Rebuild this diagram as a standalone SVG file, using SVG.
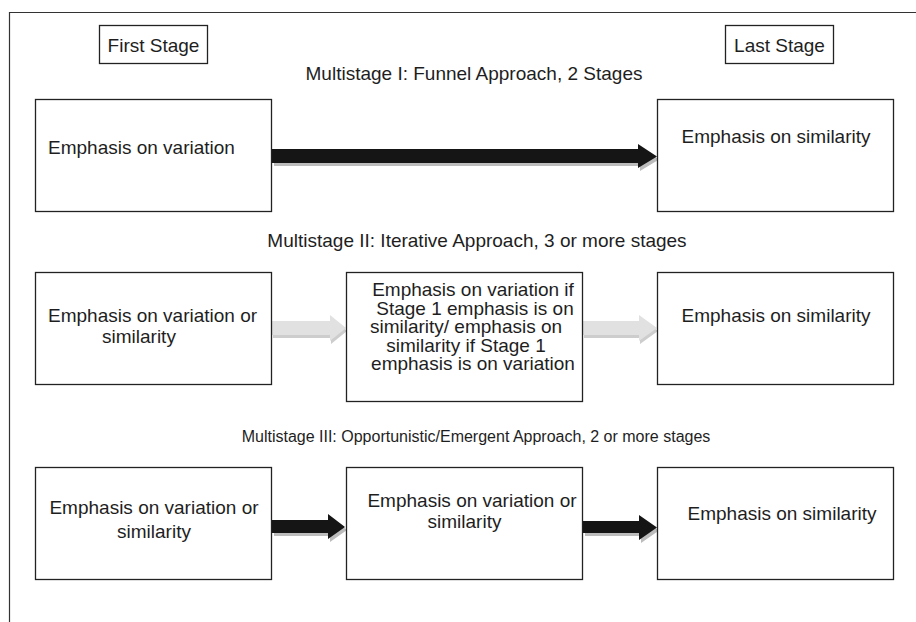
<svg xmlns="http://www.w3.org/2000/svg" width="916" height="622" viewBox="0 0 916 622">
<style>
.box{fill:#fff;stroke:#222;stroke-width:1.3}
.t{font-family:"Liberation Sans",Arial,sans-serif;font-size:19px;fill:#1e1e1e}
.sm{font-size:16px}
.m{text-anchor:middle}
.frame{fill:none;stroke:#333;stroke-width:1.2}
.blk{fill:#151515}
.blks{fill:#bcbcbc}
.gry{fill:#e1e1e1}
.grys{fill:#cdcdcd}
</style>
<rect width="916" height="622" fill="#fff"/>
<path class="frame" d="M916,12.5 H9.5 V622"/>

<g id="labels">
<text class="t m" x="474" y="80">Multistage I: Funnel Approach, 2 Stages</text>
<text class="t m" x="477" y="247">Multistage II: Iterative Approach, 3 or more stages</text>
<text class="t m sm" x="476" y="442">Multistage III: Opportunistic/Emergent Approach, 2 or more stages</text>
</g>

<g id="first-stage">
<rect class="box" x="99.5" y="25.5" width="108" height="38"/>
<text class="t m" x="153.5" y="52">First Stage</text>
</g>
<g id="last-stage">
<rect class="box" x="725.5" y="25.5" width="108" height="38"/>
<text class="t m" x="779.5" y="52">Last Stage</text>
</g>

<g id="connectors">
<path class="blks" transform="translate(2,3)" d="M272,149 H638 V144 L657,156.5 L638,168 V163 H272 Z"/>
<path class="blk" d="M272,149 H638 V144 L657,156.5 L638,168 V163 H272 Z"/>
<path class="grys" transform="translate(1,3)" d="M272,321 H330 V315 L346,328 L330,341 V335 H272 Z"/>
<path class="gry" d="M272,321 H330 V315 L346,328 L330,341 V335 H272 Z"/>
<path class="grys" transform="translate(1,3)" d="M583,321 H639 V315 L657,328 L639,341 V335 H583 Z"/>
<path class="gry" d="M583,321 H639 V315 L657,328 L639,341 V335 H583 Z"/>
<path class="blks" transform="translate(2,3)" d="M272,520 H328 V514 L345,527 L328,539 V533 H272 Z"/>
<path class="blk" d="M272,520 H328 V514 L345,527 L328,539 V533 H272 Z"/>
<path class="blks" transform="translate(2,3)" d="M583,521 H639 V515 L657,527.5 L639,540 V533 H583 Z"/>
<path class="blk" d="M583,521 H639 V515 L657,527.5 L639,540 V533 H583 Z"/>
</g>

<g id="s1-first">
<rect class="box" x="35.5" y="99.5" width="236" height="112"/>
<text class="t" x="48" y="154">Emphasis on variation</text>
</g>
<g id="s1-last">
<rect class="box" x="657.5" y="99.5" width="236" height="112"/>
<text class="t m" x="776" y="143">Emphasis on similarity</text>
</g>

<g id="s2-first">
<rect class="box" x="35.5" y="272.5" width="236" height="112"/>
<text class="t" x="48" y="322">Emphasis on variation or</text>
<text class="t" x="102" y="343">similarity</text>
</g>
<g id="s2-middle">
<rect class="box" x="346.5" y="272.5" width="236" height="129"/>
<text class="t m" x="473" y="296">Emphasis on variation if</text>
<text class="t m" x="475" y="314.5">Stage 1 emphasis is on</text>
<text class="t m" x="466" y="333">similarity/ emphasis on</text>
<text class="t m" x="466" y="351.5">similarity if Stage 1</text>
<text class="t m" x="473" y="370">emphasis is on variation</text>
</g>
<g id="s2-last">
<rect class="box" x="657.5" y="272.5" width="236" height="112"/>
<text class="t m" x="776" y="322">Emphasis on similarity</text>
</g>

<g id="s3-first">
<rect class="box" x="35.5" y="467.5" width="236" height="112"/>
<text class="t m" x="154" y="514">Emphasis on variation or</text>
<text class="t m" x="154" y="538">similarity</text>
</g>
<g id="s3-middle">
<rect class="box" x="346.5" y="467.5" width="236" height="112"/>
<text class="t m" x="472" y="507">Emphasis on variation or</text>
<text class="t m" x="464.5" y="528">similarity</text>
</g>
<g id="s3-last">
<rect class="box" x="657.5" y="467.5" width="236" height="112"/>
<text class="t m" x="782" y="520">Emphasis on similarity</text>
</g>
</svg>
